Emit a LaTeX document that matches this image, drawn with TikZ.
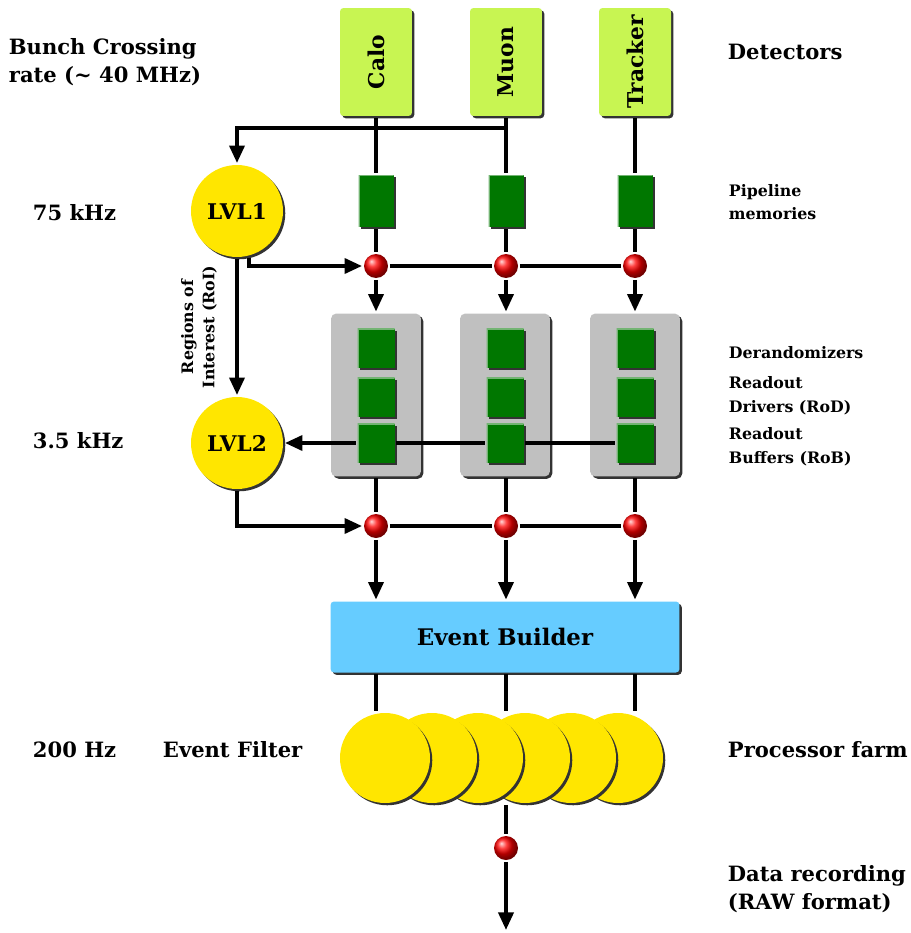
\documentclass[tikz,border=0pt]{standalone}
\usepackage{fontspec}
\usepackage{graphicx}
\setmainfont{DejaVu Serif}
\usetikzlibrary{arrows.meta,shadows}
\definecolor{detgreen}{HTML}{C8F552}
\definecolor{memgreen}{HTML}{007700}
\definecolor{boxgray}{HTML}{C0C0C0}
\definecolor{ebblue}{HTML}{66CCFF}
\definecolor{lvlyellow}{HTML}{FFE600}
\tikzset{
  shad/.style={drop shadow={shadow xshift=1.3pt,shadow yshift=-1.3pt,fill=black!80,opacity=1}},
  bevel/.style={path picture={\draw[memgreen!55!white, line width=1.4pt]
    (path picture bounding box.south west) -- (path picture bounding box.north west)
    -- (path picture bounding box.north east);}},
  det/.style={fill=detgreen, minimum width=1.44cm, minimum height=2.16cm, rounded corners=2pt, shad, font=\bfseries\fontsize{12.4}{14}\selectfont},
  mem/.style={fill=memgreen, minimum width=0.7cm, minimum height=1.04cm, inner sep=0, shad, bevel},
  sq/.style={fill=memgreen, minimum width=0.74cm, minimum height=0.78cm, inner sep=0, shad, bevel},
  rbox/.style={fill=boxgray, minimum width=1.8cm, minimum height=3.26cm, rounded corners=3pt, shad},
  lvl/.style={circle, fill=lvlyellow, minimum size=1.84cm, inner sep=0, shad, font=\bfseries\fontsize{12.3}{14}\selectfont},
  cpu/.style={circle, fill=lvlyellow, minimum size=1.8cm, inner sep=0, shad},
  dot/.style={circle, ball color=red, minimum size=0.48cm, inner sep=0},
  big/.style={anchor=west, align=left, inner sep=0, font=\bfseries\fontsize{12}{16}\selectfont},
  small/.style={anchor=west, align=left, inner sep=0, font=\bfseries\fontsize{9}{13.5}\selectfont}
}
\begin{document}
\begin{tikzpicture}[x=0.02cm,y=-0.02cm, line width=2.2pt, >={Triangle[length=10pt,width=8.5pt]}]
\useasboundingbox (0,0) rectangle (911,933);
% detectors
\node[det] (calo) at (376,62) {\rotatebox{90}{Calo}};
\node[det] (muon) at (506,62) {\rotatebox{90}{Muon}};
\node[det] (tracker) at (635,62) {\rotatebox{90}{Tracker}};
% pipeline memories
\node[mem] (pmA) at (376,201) {};
\node[mem] (pmB) at (506,201) {};
\node[mem] (pmC) at (635,201) {};
% trigger levels
\node[lvl] (lvl1) at (237,211) {LVL1};
\node[lvl] (lvl2) at (237,443) {LVL2};
% red dots
\node[dot] (dA) at (376,266) {};
\node[dot] (dB) at (506,266) {};
\node[dot] (dC) at (635,266) {};
\node[dot] (eA) at (376,526) {};
\node[dot] (eB) at (506,526) {};
\node[dot] (eC) at (635,526) {};
\node[dot] (out) at (506,848) {};
% readout boxes
\node[rbox] (rbA) at (376,395) {};
\node[rbox] (rbB) at (505,395) {};
\node[rbox] (rbC) at (635,395) {};
\foreach \c/\x in {A/376,B/505,C/635}{
  \node[sq] (sq\c1) at (\x,348) {};
  \node[sq] (sq\c2) at (\x,397) {};
  \node[sq] (sq\c3) at (\x,443) {};
}
% event builder
\node[fill=ebblue, minimum width=6.98cm, minimum height=1.42cm, rounded corners=2pt, shad,
  font=\bfseries\fontsize{13}{15}\selectfont] (eb) at (505,637) {Event Builder};
% processor farm
\foreach \i/\x in {6/618,5/571,4/525,3/478,2/432,1/385}
  \node[cpu] (farm\i) at (\x,758) {};
\coordinate (tap) at (506,128);
\coordinate (rec) at (506,930);
% connectors
\draw (calo) -- (pmA);
\draw (muon) -- (pmB);
\draw (tracker) -- (pmC);
\draw[->] (tap) -| (lvl1);
\draw (pmA) -- (dA);
\draw (pmB) -- (dB);
\draw (pmC) -- (dC);
\draw[->] (lvl1.-76) |- (dA);
\draw (dA) -- (dB) -- (dC);
\draw[->] (dA) -- (rbA);
\draw[->] (dB) -- (rbB.north -| dB);
\draw[->] (dC) -- (rbC);
\draw[->] (lvl1) -- (lvl2);
\draw (sqC3) -- (sqB3);
\draw (sqB3) -- (sqA3);
\draw[->] (sqA3) -- (lvl2);
\draw (rbA) -- (eA);
\draw (rbB.south -| eB) -- (eB);
\draw (rbC) -- (eC);
\draw[->] (lvl2.south) |- (eA);
\draw (eA) -- (eB) -- (eC);
\draw[->] (eA) -- (eb.north -| eA);
\draw[->] (eB) -- (eb.north -| eB);
\draw[->] (eC) -- (eb.north -| eC);
\draw (eb.south -| eA) -- (eA |- farm1.north);
\draw (eb.south -| eB) -- (eB |- farm1.north);
\draw (eb.south -| eC) -- (eC |- farm1.north);
\draw (eB |- farm1.south) -- (out);
\draw[->] (out) -- (rec);
% labels
\node[font=\bfseries\fontsize{9}{12}\selectfont, align=center, rotate=90, inner sep=0] (roi) at (199,327) {Regions of\\Interest (RoI)};
\node[big] (bx) at (7,62) {Bunch Crossing\\rate (\textasciitilde{} 40 MHz)};
\node[big] (r1) at (31,213) {75 kHz};
\node[big] (r2) at (31,441) {3.5 kHz};
\node[big] (r3) at (31,750) {200 Hz};
\node[big] (ef) at (161,750) {Event Filter};
\node[big] (detl) at (726,52) {Detectors};
\node[small] (pml) at (727,202) {Pipeline\\memories};
\node[small] (derl) at (727,353) {Derandomizers};
\node[small] (rodl) at (727,396) {Readout\\Drivers (RoD)};
\node[small] (robl) at (727,447) {Readout\\Buffers (RoB)};
\node[big] (pfl) at (726,750) {Processor farm};
\node[big] (drl) at (726,889) {Data recording\\(RAW format)};
\end{tikzpicture}
\end{document}
